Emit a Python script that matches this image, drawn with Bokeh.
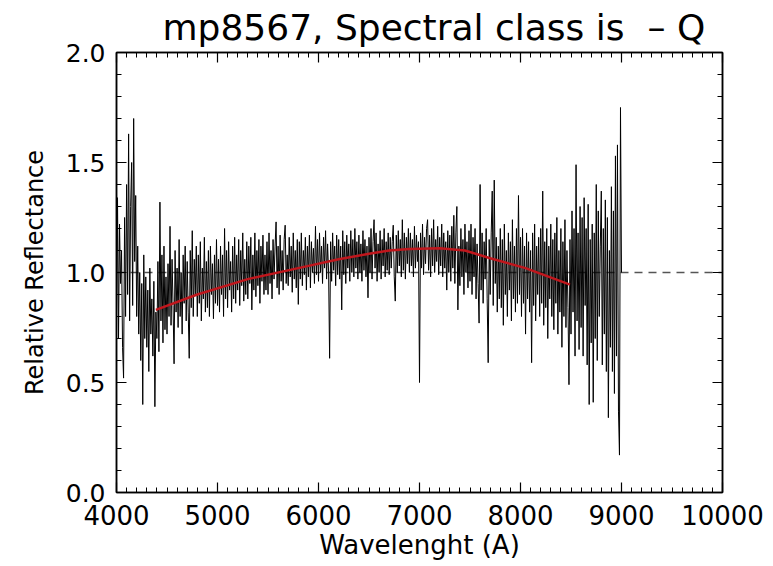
from bokeh.plotting import figure
from bokeh.models import (Range1d, SingleIntervalTicker, LinearAxis, PrintfTickFormatter,
                          NumeralTickFormatter, CustomJSTickFormatter, Title, Span)
from bokeh.embed import file_html
from bokeh.resources import INLINE

# ---- data ----
wave_start = 4000   # Angstrom
wave_step = 10      # Angstrom per sample
reflectance = [
    0.82, 1.34, 0.70, 1.22, 0.95, 1.10, 0.66, 0.52, 1.25, 0.80,   # 4000
    1.40, 0.90, 1.63, 0.78, 1.30, 1.50, 0.85, 1.70, 1.05, 1.35,   # 4100
    0.80, 1.12, 0.72, 1.00, 0.60, 0.95, 0.40, 1.08, 0.70, 0.98,   # 4200
    0.66, 0.92, 0.55, 1.02, 0.72, 0.88, 0.62, 0.96, 0.39, 0.82,   # 4300
    0.70, 1.05, 0.64, 1.32, 0.78, 1.08, 0.68, 1.12, 0.74, 0.98,   # 4400
    0.72, 1.04, 0.80, 1.21, 0.76, 1.06, 0.85, 0.585, 1.10, 0.82,  # 4500
    1.02, 0.75, 1.15, 0.80, 1.00, 0.72, 1.08, 0.86, 1.12, 0.78,   # 4600
    1.05, 0.82, 0.61, 1.10, 0.84, 1.19, 0.80, 1.06, 0.90, 1.12,   # 4700
    0.80, 1.08, 0.86, 1.14, 0.78, 1.02, 0.88, 1.16, 0.82, 1.05,   # 4800
    0.84, 1.10, 0.80, 1.12, 0.90, 1.04, 0.79, 1.08, 0.86, 1.15,   # 4900
    0.85, 1.06, 0.82, 1.12, 0.90, 1.08, 0.80, 1.20, 0.88, 1.10,   # 5000
    0.84, 1.14, 0.92, 1.05, 0.82, 1.12, 0.88, 1.16, 0.86, 1.08,   # 5100
    0.92, 1.15, 0.85, 1.10, 0.94, 1.18, 0.87, 1.06, 0.90, 1.14,   # 5200
    0.88, 1.12, 0.95, 1.16, 0.83, 1.08, 0.92, 1.18, 0.89, 1.10,   # 5300
    0.94, 1.15, 0.86, 1.12, 0.96, 1.17, 0.90, 1.08, 0.92, 1.14,   # 5400
    0.90, 1.18, 0.95, 1.10, 0.88, 1.15, 0.97, 1.12, 1.23, 0.93,   # 5500
    1.12, 0.90, 1.17, 0.96, 1.10, 0.92, 1.15, 1.215, 0.95, 1.08,  # 5600
    0.94, 1.16, 0.98, 1.12, 0.91, 1.18, 0.97, 1.10, 0.93, 1.15,   # 5700
    0.855, 1.14, 0.97, 1.18, 0.94, 1.10, 0.99, 1.16, 0.92, 1.12,  # 5800
    0.98, 1.17, 0.93, 1.14, 1.00, 1.11, 0.95, 1.21, 0.99, 1.15,   # 5900
    0.96, 1.18, 1.00, 1.12, 0.95, 1.16, 1.02, 1.19, 0.97, 1.13,   # 6000
    1.00, 0.61, 1.14, 0.96, 1.18, 1.01, 1.12, 0.94, 1.17, 0.99,   # 6100
    1.15, 0.97, 1.12, 0.83, 1.19, 0.99, 1.14, 0.95, 1.17, 1.02,   # 6200
    1.13, 0.96, 1.19, 1.00, 1.15, 0.98, 1.20, 1.02, 1.14, 0.97,   # 6300
    1.17, 1.00, 1.13, 0.96, 1.19, 1.01, 1.15, 0.98, 1.12, 0.885,  # 6400
    1.16, 1.00, 1.20, 0.97, 1.14, 1.24, 1.02, 1.18, 0.96, 1.13,   # 6500
    1.00, 1.19, 0.97, 1.15, 1.03, 1.20, 0.98, 1.14, 1.01, 1.18,   # 6600
    0.99, 1.16, 1.02, 1.14, 1.215, 0.98, 0.87, 1.17, 1.00, 1.19,  # 6700
    1.03, 1.15, 0.98, 1.24, 1.01, 1.18, 0.97, 1.16, 1.04, 1.20,   # 6800
    1.00, 1.18, 1.03, 1.15, 0.98, 1.21, 1.02, 1.17, 1.05, 1.14,   # 6900
    0.50, 1.18, 1.02, 1.22, 0.99, 1.16, 1.04, 1.20, 1.24, 1.01,   # 7000
    1.17, 0.98, 1.20, 1.03, 1.24, 1.00, 1.15, 1.05, 1.21, 0.99,   # 7100
    1.16, 1.03, 1.22, 0.98, 1.18, 1.02, 1.14, 0.92, 1.19, 1.00,   # 7200
    1.17, 0.96, 1.21, 1.02, 1.26, 0.95, 1.18, 1.30, 0.83, 1.12,   # 7300
    0.94, 1.20, 0.98, 1.15, 0.90, 1.22, 1.00, 1.14, 0.93, 1.19,   # 7400
    0.96, 1.22, 0.90, 1.16, 0.98, 1.20, 0.88, 1.13, 0.95, 0.77,   # 7500
    1.40, 0.92, 1.18, 0.86, 1.14, 0.97, 1.20, 0.88, 0.59, 1.15,   # 7600
    0.90, 1.18, 1.37, 0.85, 1.42, 0.95, 1.16, 0.82, 1.12, 0.88,   # 7700
    1.20, 0.84, 1.15, 0.76, 1.22, 0.90, 1.10, 0.80, 1.18, 0.92,   # 7800
    1.14, 0.78, 1.24, 0.88, 1.12, 0.82, 1.20, 0.86, 1.35, 0.90,   # 7900
    1.16, 0.80, 1.20, 0.86, 1.12, 0.72, 1.18, 0.88, 1.14, 0.82,   # 8000
    1.10, 0.59, 1.18, 0.85, 1.22, 0.78, 1.12, 0.90, 1.16, 0.80,   # 8100
    1.20, 0.86, 1.37, 0.76, 1.14, 0.84, 1.20, 0.70, 1.12, 0.88,   # 8200
    1.22, 0.80, 1.15, 0.74, 1.18, 0.86, 1.25, 0.72, 1.10, 0.82,   # 8300
    1.20, 0.66, 1.14, 0.80, 1.24, 0.75, 1.10, 0.84, 0.49, 1.15,   # 8400
    0.72, 1.28, 0.82, 1.20, 0.62, 1.49, 0.78, 1.18, 0.65, 1.30,   # 8500
    0.75, 1.25, 0.62, 1.34, 0.85, 1.20, 0.58, 1.31, 0.40, 1.15,   # 8600
    0.68, 1.22, 0.41, 1.18, 0.70, 1.40, 0.60, 1.28, 0.80, 1.12,   # 8700
    1.37, 0.58, 1.20, 0.72, 1.33, 0.55, 1.25, 0.34, 1.10, 0.66,   # 8800
    1.39, 0.55, 1.28, 0.45, 1.53, 0.62, 1.58, 0.37, 0.17, 1.75,   # 8900
    1.00,                                                         # 9000
]
wavelength = [wave_start + i * wave_step for i in range(len(reflectance))]

fit_wavelength = [4390, 4800, 5300, 5800, 6200, 6500, 6700, 6900, 7200, 7450, 7700, 8050, 8490]
fit_reflectance = [0.83, 0.90, 0.97, 1.02, 1.06, 1.085, 1.10, 1.107, 1.11, 1.10, 1.065, 1.02, 0.945]

reference_level = 1.0
x_ticks_interval = 1000
y_ticks_interval = 0.5

FONT = "DejaVu Sans"

p = figure(width=773, height=566, x_range=Range1d(4000, 10000), y_range=Range1d(0, 2),
           output_backend="svg", toolbar_location=None,
           min_border_left=116, min_border_right=51, min_border_top=51, min_border_bottom=74)
p.title = Title(text="mp8567, Spectral class is\u00a0\u00a0\u2013 Q", text_font=FONT,
                text_font_size="36px", text_font_style="normal", text_color="black",
                align="left", offset=46, standoff=9)
p.xgrid.visible = False
p.ygrid.visible = False
p.outline_line_color = "black"
p.outline_line_width = 1.5
p.background_fill_color = "white"
p.border_fill_color = "white"


def style(ax):
    ax.axis_line_color = "black"
    ax.axis_line_width = 1.5
    ax.major_tick_in = 10
    ax.major_tick_out = 0
    ax.minor_tick_in = 5
    ax.minor_tick_out = 0
    ax.major_tick_line_color = "black"
    ax.minor_tick_line_color = "black"
    ax.major_tick_line_width = 1.2
    ax.minor_tick_line_width = 1.0
    ax.major_label_text_font = FONT
    ax.major_label_text_color = "black"
    ax.axis_label_text_font = FONT
    ax.axis_label_text_font_style = "normal"
    ax.axis_label_text_color = "black"


p.xaxis.ticker = SingleIntervalTicker(interval=x_ticks_interval, num_minor_ticks=10)
p.yaxis.ticker = SingleIntervalTicker(interval=y_ticks_interval, num_minor_ticks=5)
p.xaxis.formatter = NumeralTickFormatter(format="0")
p.yaxis.formatter = PrintfTickFormatter(format="%.1f")
style(p.xaxis[0])
style(p.yaxis[0])
p.xaxis.major_label_text_font_size = "26px"
p.yaxis.major_label_text_font_size = "25px"
p.xaxis.axis_label = "Wavelenght (A)"
p.yaxis.axis_label = "Relative Reflectance"
p.xaxis.axis_label_text_font_size = "26px"
p.yaxis.axis_label_text_font_size = "24px"
p.xaxis.major_label_standoff = 12
p.yaxis.major_label_standoff = 11
p.xaxis.axis_label_standoff = 2
p.yaxis.axis_label_standoff = 14

blank = CustomJSTickFormatter(code="return ''")
top = LinearAxis(ticker=SingleIntervalTicker(interval=x_ticks_interval, num_minor_ticks=10),
                 formatter=blank, major_label_standoff=0)
right = LinearAxis(ticker=SingleIntervalTicker(interval=y_ticks_interval, num_minor_ticks=5),
                   formatter=blank, major_label_standoff=0)
style(top)
style(right)
p.add_layout(top, "above")
p.add_layout(right, "right")

p.add_layout(Span(location=reference_level, dimension="width", line_color="#555555",
                  line_width=1.5, line_dash="8 6", level="underlay"))

p.line(wavelength, reflectance, line_color="black", line_width=1)
p.line(fit_wavelength, fit_reflectance, line_color="#c0161c", line_width=2.5)

open("out.html", "w").write(file_html(p, INLINE))
